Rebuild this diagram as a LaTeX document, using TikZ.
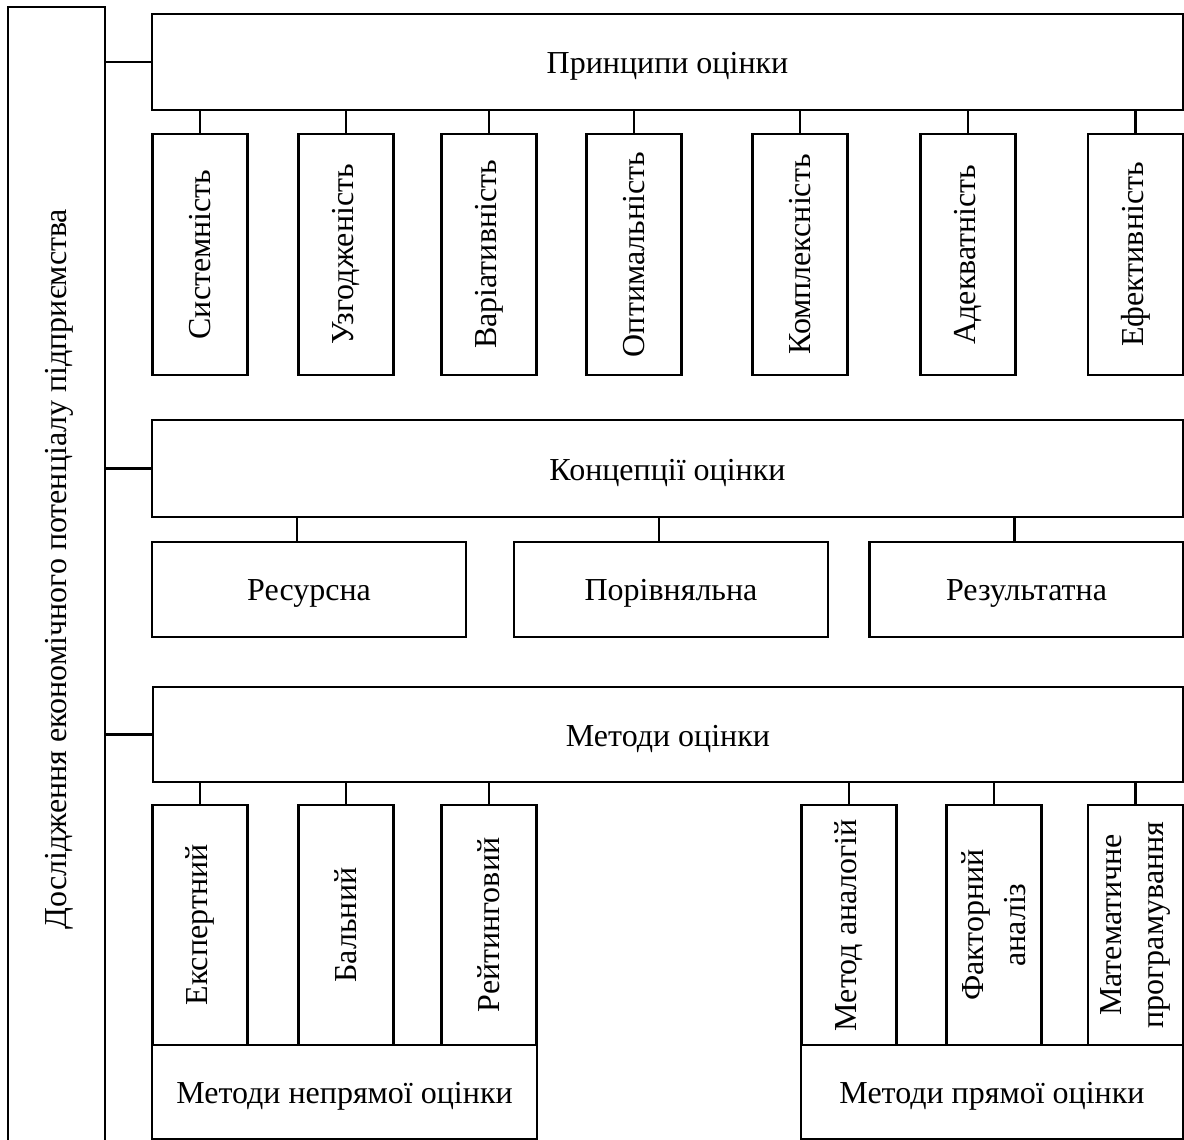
\documentclass[tikz,border=0pt]{standalone}
\usepackage{fontspec}
\setmainfont{Liberation Serif}
\begin{document}
\begin{tikzpicture}[x=1pt,y=-1pt,
  box/.style={draw=black,line width=2.8pt,inner sep=0pt,fill=white},
  lbl/.style={inner sep=0pt,font=\fontsize{32}{42}\selectfont,align=center},
  hlbl/.style={lbl,yshift=-4pt},
  vlbl/.style={lbl,rotate=90},
  link/.style={line width=2.8pt}]
\useasboundingbox[fill=white] (0,0) rectangle (1184,1140);

% left frame with the overall title
\node[box,minimum width=97,minimum height=1136] (main) at (56.5,575) {};
\node[vlbl] (maintxt) at (59,569) {Дослідження економічного потенціалу підприємства};

% principles
\node[box,minimum width=1031,minimum height=96] (prin) at (667.5,62) {};
\node[hlbl] at (prin.center) {Принципи оцінки};
\foreach \n/\cx/\t in {p1/200/Системність,p2/346/Узгодженість,p3/489/Варіативність,
  p4/634/Оптимальність,p5/800/Комплексність,p6/968/Адекватність,p7/1135.5/Ефективність}{
  \node[box,minimum width=95,minimum height=241] (\n) at (\cx,254.5) {};
  \node[vlbl] at (\n.center) {\t};
  \draw[link] (\n.north) -- (\n.north |- prin.south);
}

% concepts
\node[box,minimum width=1031,minimum height=97] (conc) at (667.5,468.5) {};
\node[hlbl] at (conc.center) {Концепції оцінки};
\foreach \n/\cx/\t in {c1/309/Ресурсна,c2/671/Порівняльна,c3/1026.5/Результатна}{
  \node[box,minimum width=314,minimum height=95] (\n) at (\cx,589.5) {};
  \node[hlbl] at (\n.center) {\t};
  \draw[link] ([xshift=-12pt]\n.north) -- ([xshift=-12pt]\n.north |- conc.south);
}

% methods
\node[box,minimum width=1030,minimum height=95] (meth) at (668,734.5) {};
\node[hlbl] at (meth.center) {Методи оцінки};

\node[box,minimum width=385,minimum height=94] (ind) at (344.5,1092) {};
\node[hlbl] at (ind.center) {Методи непрямої оцінки};
\node[box,minimum width=382,minimum height=94] (dir) at (992,1092) {};
\node[hlbl] at (dir.center) {Методи прямої оцінки};

\foreach \n/\cx/\t in {m1/200/Експертний,m2/346/Бальний,m3/489/Рейтинговий,
  m4/849/Метод аналогій,m5/994/Факторний\\аналіз,m6/1135.5/Математичне\\програмування}{
  \node[box,minimum width=95,minimum height=240] (\n) at (\cx,925) {};
  \node[vlbl] at (\n.center) {\t};
  \draw[link] (\n.north) -- (\n.north |- meth.south);
}

% links from the left frame
\draw[link] (prin.west) -- (prin.west -| main.east);
\draw[link] (conc.west) -- (conc.west -| main.east);
\draw[link] (meth.west) -- (meth.west -| main.east);
\end{tikzpicture}
\end{document}
